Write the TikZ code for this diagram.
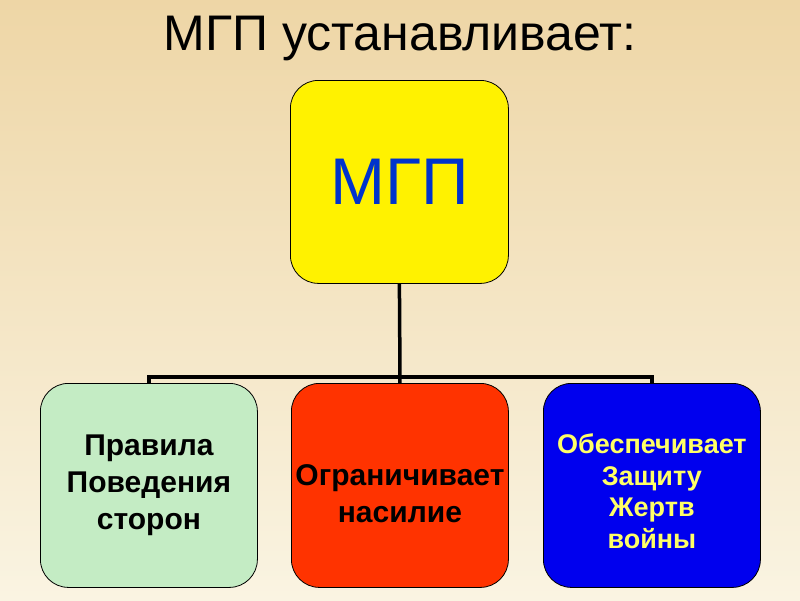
\documentclass[tikz,border=0pt]{standalone}
\usepackage{fontspec}
\setmainfont{Liberation Sans}
\begin{document}
\begin{tikzpicture}[x=1pt,y=-1pt,
  box/.style={draw=black,line width=0.8pt,rounded corners=28pt,minimum width=217pt,minimum height=204pt,anchor=north west,inner sep=0pt,align=center},
  lbl/.style={font=\bfseries\fontsize{30}{37}\selectfont,align=center},
  conn/.style={line width=3.5pt}]
\shade[top color={rgb,255:red,238;green,214;blue,166},bottom color={rgb,255:red,250;green,244;blue,226}] (0,0) rectangle (800,600);
\useasboundingbox (0,0) rectangle (800,600);
\node[font=\fontsize{50}{54}\selectfont] (title) at (400,38) {МГП устанавливает:};
\node[box,fill=yellow,minimum width=218pt,minimum height=203pt] (top) at (290,80) {};
\node[text={rgb,255:red,0;green,51;blue,204},font=\fontsize{66}{70}\selectfont] at (top.center) {МГП};
\node[box,fill={rgb,255:red,196;green,236;blue,196}] (l) at (40,383) {};
\node[lbl] at (l.center) {Правила\\Поведения\\сторон};
\node[box,fill={rgb,255:red,255;green,51;blue,0}] (m) at (291,383) {};
\node[lbl] at ([yshift=-8]m.center) {Ограничивает\\насилие};
\node[box,fill={rgb,255:red,0;green,0;blue,238}] (r) at (543,383) {};
\node[lbl,text={rgb,255:red,255;green,255;blue,102},font=\bfseries\fontsize{27}{31.5}\selectfont] at ([yshift=-6]r.center) {Обеспечивает\\Защиту\\Жертв\\войны};
\coordinate (j) at (400,377);
\draw[conn] (top.south) -- (j);
\draw[conn] (l.north) |- (j) -| (r.north);
\draw[conn] (j) -- (m.north);
\end{tikzpicture}
\end{document}
